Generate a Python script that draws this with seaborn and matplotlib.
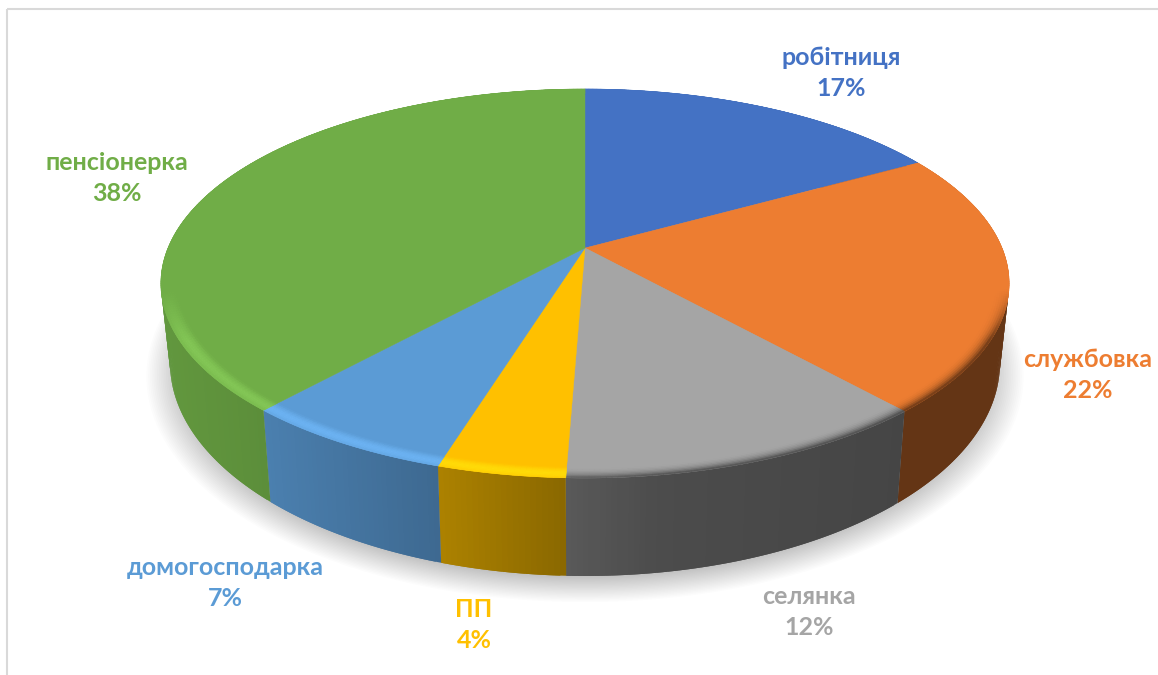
import numpy as np
import matplotlib
matplotlib.use('Agg')
import matplotlib.pyplot as plt
from matplotlib.collections import PolyCollection
from matplotlib.patches import Rectangle
import seaborn as sns

names = ['робітниця', 'службовка', 'селянка', 'ПП', 'домогосподарка', 'пенсіонерка']
values = [16.8, 21.7, 12.1, 4.1, 6.9, 38.4]
hex_colors = ['#4472C4', '#ED7D31', '#A5A5A5', '#FFC000', '#5B9BD5', '#70AD47']

label_x = [841, 1088, 809, 474, 225, 117]
label_y = [73, 375, 612, 625, 583, 178]

# perspective of the disc, in pixels of the picture
k = 0.1825
cx = 585
top = dict(a=417, b=188, y0=248)
low = dict(a=408, b=206, y0=324)

sns.set_theme(style='white')
plt.rcParams['font.family'] = ['Lato', 'Noto Sans', 'DejaVu Sans']
colors = np.array(sns.color_palette(hex_colors))


def project(t, r, lev):
    u = r * np.sin(t)
    v = r * np.cos(t)
    w = 1 + k * v
    return cx + lev['a'] * u / w, lev['y0'] - lev['b'] * v / w


def shade(x):
    return np.interp(x, [170, 265, 435, 566, 660, 900, 1000], [0.87, 0.82, 0.68, 0.54, 0.46, 0.42, 0.42])


fig = plt.figure(figsize=(11.58, 6.75), dpi=100)
ax = fig.add_axes([0, 0, 1, 1])
ax.set_xlim(0, 1158)
ax.set_ylim(675, 0)
ax.axis('off')

# frame, only left and top edges are visible
ax.add_patch(Rectangle((6.5, 8.5), 1200, 720, fill=False, ec='#D9D9D9', lw=1.5, zorder=0))

# soft shadow under the disc
tt = np.linspace(0, 2 * np.pi, 300)
for s in np.linspace(1.055, 0.96, 24):
    x, y = project(tt, s, low)
    ax.fill(x, y + 9, color='black', alpha=0.012, lw=0, zorder=1)

edges = 2 * np.pi * np.cumsum([0] + values) / sum(values)

for i, base in enumerate(colors):
    t = np.linspace(edges[i], edges[i + 1], max(int((edges[i + 1] - edges[i]) * 90), 8))

    # side wall, each quad runs under the next one so no seams show
    x0, y0 = project(t, 1, top)
    x1, y1 = project(t, 1, low)
    quads = []
    cols = []
    for j in range(len(t) - 1):
        e = min(j + 2, len(t) - 1)
        quads.append([(x0[j], y0[j]), (x0[e], y0[e]), (x1[e], y1[e]), (x1[j], y1[j])])
        cols.append(base * shade((x0[j] + x0[j + 1]) / 2))
    ax.add_collection(PolyCollection(quads, facecolors=cols, edgecolors='none', zorder=2))

    # flat top of the slice
    xs, ys = project(t, 1, top)
    ax.fill(np.r_[cx, xs], np.r_[top['y0'], ys], color=base, lw=0.3, zorder=3)

    # bevel along the rim: light on the left, fading into the wall on the right
    rs = np.linspace(0.962, 1, 9)
    quads = []
    cols = []
    hi = np.clip(base * 1.1 + 0.03, 0, 1)
    for j in range(len(t) - 1):
        for n in range(len(rs) - 1):
            xa, ya = project(t[j:j + 2], rs[n], top)
            xb, yb = project(t[j:j + 2], rs[n + 1], top)
            p = (n + 0.5) / (len(rs) - 1)
            xm = xa.mean()
            power = np.clip((ya.mean() - 290) / 50, 0, 1)
            if xm < 566:
                m = power * np.sin(np.pi * min(p * 0.8, 1))
                c = base * (1 - m) + hi * m
            else:
                m = power * p ** 2.5
                c = base * (1 - m) + base * shade(xm) * m
            quads.append([(xa[0], ya[0]), (xa[1], ya[1]), (xb[1], yb[1]), (xb[0], yb[0])])
            cols.append(c)
    ax.add_collection(PolyCollection(quads, facecolors=cols, edgecolors=cols, linewidths=0.4, zorder=4))

    ax.text(label_x[i], label_y[i], f'{names[i]}\n{round(values[i])}%', color=base, fontsize=18,
            fontweight='bold', ha='center', va='center', linespacing=1.45, zorder=5)

fig.savefig('out.png', dpi=100)
